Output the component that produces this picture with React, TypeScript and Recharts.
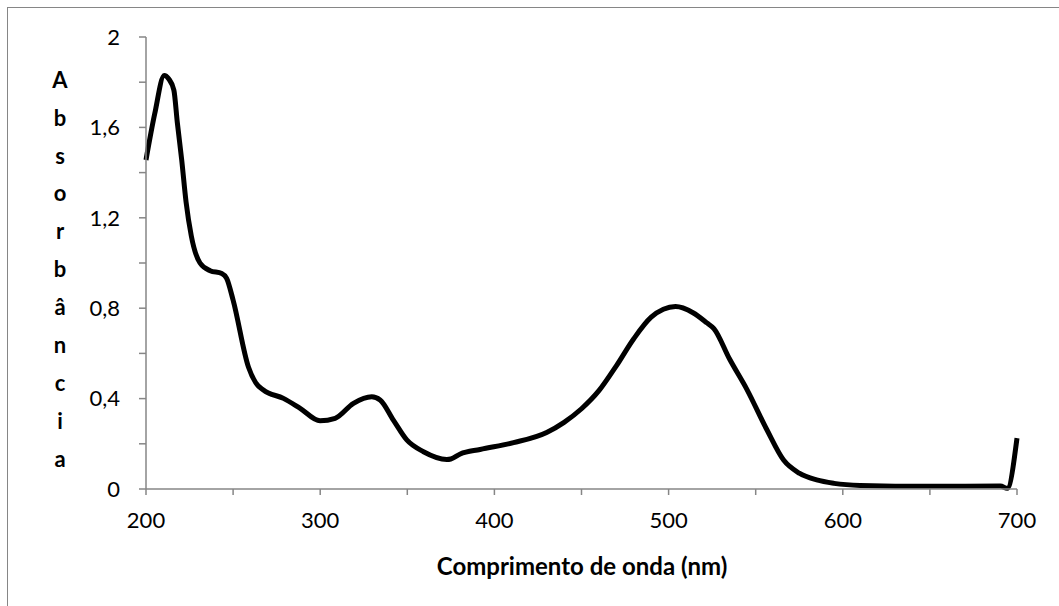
import React from "react";
import { LineChart, Line, XAxis, YAxis, Label } from "recharts";

const wavelengths = [200, 205, 210.5, 213, 216, 218, 220.5, 223, 226, 231, 236.8, 243.5, 246.3, 250, 258.8, 263, 267.4, 278.9, 288.5, 299.9, 308.6, 319.1, 329.6, 334.4, 342, 349.7, 359.3, 372.7, 375, 380.4, 391.8, 411, 430, 440, 450, 460, 470, 480, 490, 497, 504, 514, 522, 526, 535, 545, 556.5, 566, 575, 585, 595, 610, 650, 690.5, 694.4, 700];
const absorbance = [1.456, 1.66, 1.83, 1.815, 1.765, 1.62, 1.456, 1.27, 1.12, 1.0, 0.966, 0.954, 0.932, 0.836, 0.54, 0.47, 0.438, 0.401, 0.357, 0.302, 0.313, 0.379, 0.408, 0.394, 0.305, 0.217, 0.165, 0.131, 0.133, 0.155, 0.175, 0.205, 0.25, 0.295, 0.355, 0.435, 0.545, 0.665, 0.76, 0.795, 0.807, 0.78, 0.735, 0.71, 0.575, 0.44, 0.261, 0.128, 0.07, 0.04, 0.025, 0.016, 0.012, 0.013, 0.003, 0.225];

const xTicks = [200, 250, 300, 350, 400, 450, 500, 550, 600, 650, 700];
const xTickLabels = ["200", "", "300", "", "400", "", "500", "", "600", "", "700"];
const yTicks = [0, 0.2, 0.4, 0.6, 0.8, 1.0, 1.2, 1.4, 1.6, 1.8, 2.0];
const yTickLabels = ["0", "", "0,4", "", "0,8", "", "1,2", "", "1,6", "", "2"];

const xTitle = "Comprimento de onda (nm)";
const yTitle = "Absorbância";

const data = wavelengths.map((w, i) => ({ w, a: absorbance[i] }));

const FONT = "Lato, 'Open Sans', sans-serif";
const AXIS = "#868686";

const YTitle = () => {
  const letters = Array.from(yTitle);
  return (
    <text x={60} y={80} textAnchor="middle" fontFamily={FONT} fontWeight={700} fontSize={22} fill="#000">
      {letters.map((ch, i) => (
        <tspan key={i} x={60} y={80 + i * 37.9} dy="0.35em">
          {ch}
        </tspan>
      ))}
    </text>
  );
};

export default function App() {
  return (
    <div style={{ position: "absolute", left: 0, top: 0, width: 1059, height: 606, background: "#fff", overflow: "hidden" }}>
      <div
        style={{
          position: "absolute",
          left: 7,
          top: 7,
          width: 1070,
          height: 620,
          border: `1.5px solid ${AXIS}`,
          boxSizing: "border-box",
        }}
      />
      <div style={{ position: "absolute", left: 0, top: 0 }}>
        <LineChart width={1059} height={606} data={data} margin={{ top: 37, right: 42, left: 86, bottom: 57 }}>
          <XAxis
            dataKey="w"
            type="number"
            domain={[200, 700]}
            ticks={xTicks}
            interval={0}
            tickFormatter={(v: number, i: number) => xTickLabels[i]}
            stroke={AXIS}
            strokeWidth={1.5}
            tickSize={6}
            tickMargin={17}
            height={60}
            tick={{ fill: "#000", fontSize: 22, fontFamily: FONT }}
          >
            <Label
              value={xTitle}
              position="insideBottom"
              offset={0}
              content={() => (
                <text x={582} y={565} textAnchor="middle" dominantBaseline="central" fontFamily={FONT} fontWeight={700} fontSize={24} fill="#000">
                  {xTitle}
                </text>
              )}
            />
          </XAxis>
          <YAxis
            type="number"
            domain={[0, 2]}
            ticks={yTicks}
            interval={0}
            tickFormatter={(v: number, i: number) => yTickLabels[i]}
            stroke={AXIS}
            strokeWidth={1.5}
            tickSize={7}
            tickMargin={19}
            width={60}
            tick={{ fill: "#000", fontSize: 22, fontFamily: FONT }}
          >
            <Label position="left" content={() => <YTitle />} />
          </YAxis>
          <Line
            type="monotone"
            dataKey="a"
            stroke="#000"
            strokeWidth={5}
            dot={false}
            isAnimationActive={false}
          />
        </LineChart>
      </div>
    </div>
  );
}
